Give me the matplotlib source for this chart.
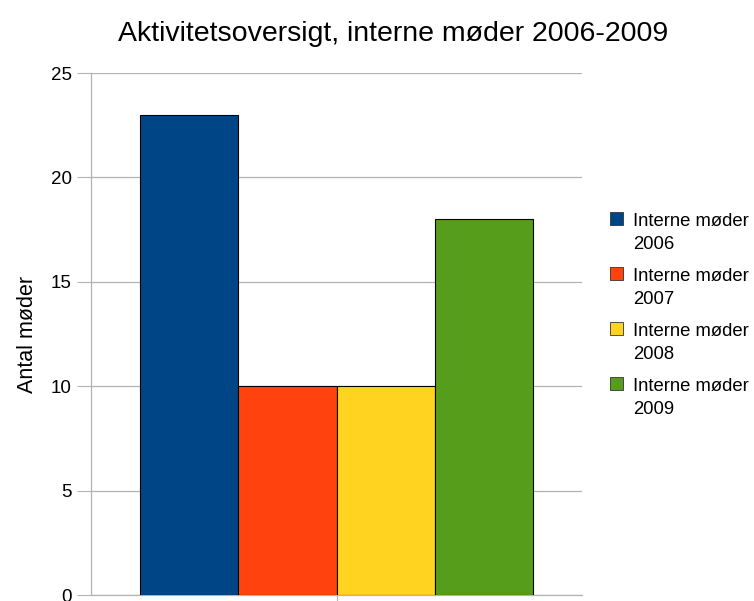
import matplotlib
matplotlib.use('Agg')
import matplotlib.pyplot as plt
from matplotlib.patches import Rectangle

plt.rcParams['font.family'] = ['Liberation Sans', 'DejaVu Sans']

# ------------------------------ data ------------------------------
series_labels = ['Interne møder\n2006', 'Interne møder\n2007',
                 'Interne møder\n2008', 'Interne møder\n2009']
values = [23, 10, 10, 18]
colors = ['#004586', '#ff420e', '#ffd320', '#579d1c']
yticks = [0, 5, 10, 15, 20, 25]

W, H = 754, 601
fig = plt.figure(figsize=(W / 100, H / 100), dpi=100)
ax = fig.add_axes([91 / W, 6 / H, (582 - 91) / W, (595 - 73) / H])

bar_w = 0.2
n = len(values)
positions = [(i - (n - 1) / 2) * bar_w for i in range(n)]
ax.bar(positions, values, width=bar_w, color=colors, edgecolor='black',
       linewidth=0.8, zorder=3)

ax.set_xlim(-0.5, 0.5)
ax.set_ylim(0, 25)
ax.set_yticks(yticks)
ax.set_xticks([0])
ax.set_xticklabels([''])
ax.yaxis.grid(True, color='#b3b3b3', linewidth=0.9, zorder=0)
ax.tick_params(axis='y', length=10, color='#b3b3b3', labelsize=13.5, pad=4)
ax.tick_params(axis='x', length=5, color='#b3b3b3')
for s in ax.spines.values():
    s.set_color('#b3b3b3')
    s.set_linewidth(0.9)
ax.spines['top'].set_visible(False)
ax.spines['right'].set_visible(False)

ax.set_ylabel('Antal møder', fontsize=15.5, labelpad=9)
fig.text(393 / W, 1 - 34 / H, 'Aktivitetsoversigt, interne møder 2006-2009',
         ha='center', va='center', fontsize=20.5)

# legend drawn by hand so the squares sit on the first text line
y0 = 218
for i, (lab, c) in enumerate(zip(series_labels, colors)):
    yy = y0 + i * 55
    fig.add_artist(Rectangle((610 / W, 1 - (yy + 7) / H), 13 / W, 13 / H,
                             transform=fig.transFigure, facecolor=c,
                             edgecolor='#333333', linewidth=0.6))
    fig.text(633 / W, 1 - (yy - 5) / H, lab, ha='left', va='top',
             fontsize=13.3, linespacing=1.45)

fig.savefig('out.png', dpi=100)
